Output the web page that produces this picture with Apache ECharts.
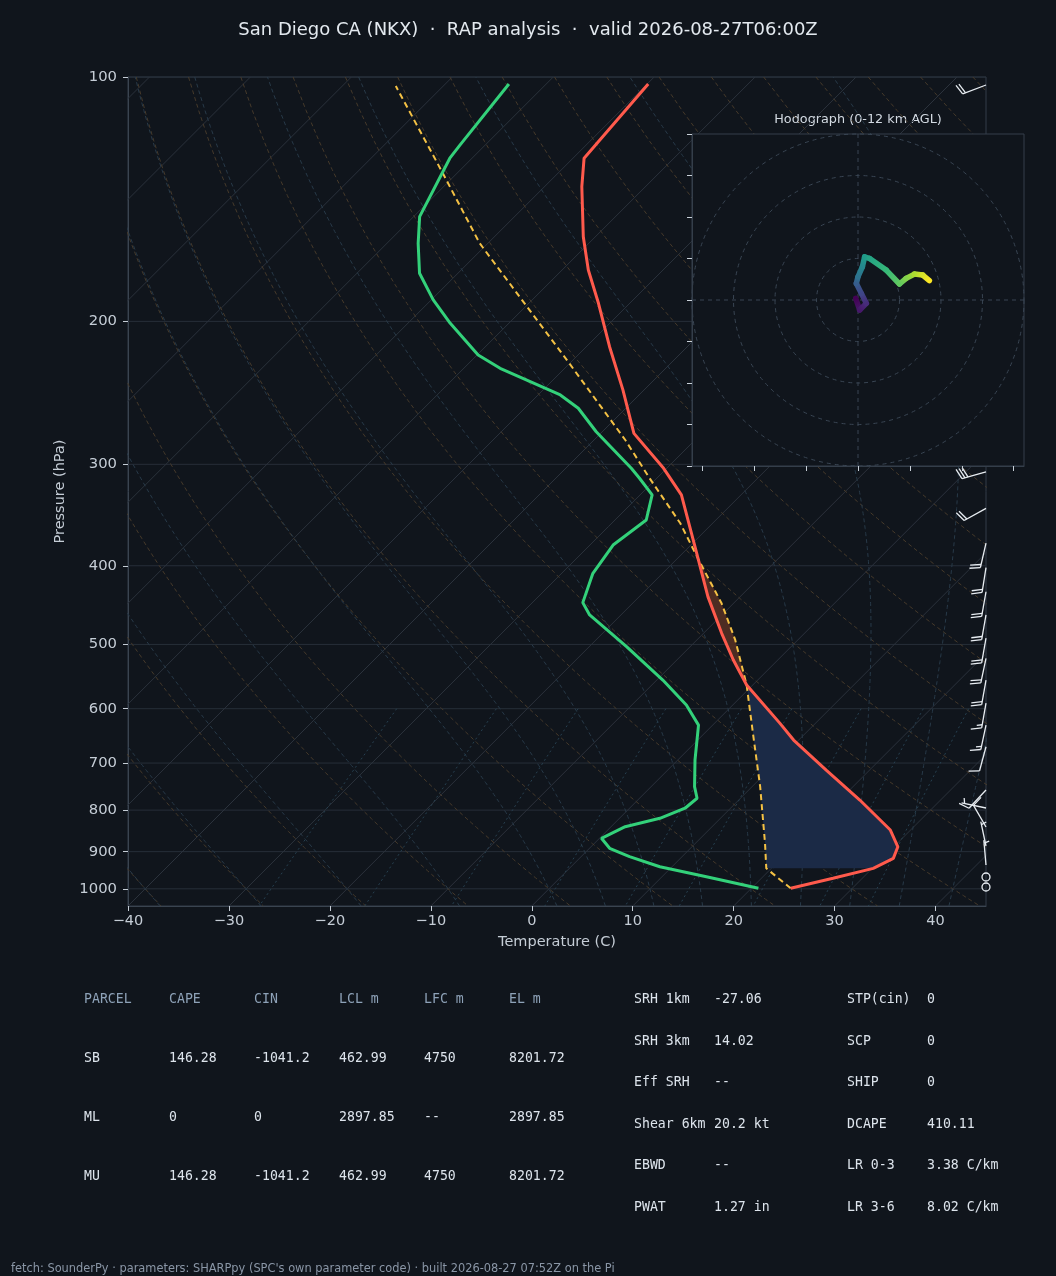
<!DOCTYPE html>
<html lang="en">
<head>
<meta charset="UTF-8">
<title>Skew-T - San Diego CA (NKX)</title>
<style>
  html, body { margin: 0; padding: 0; background: #10151c; }
  #main { width: 1056px; height: 1276px; }
</style>
</head>
<body>
<div id="main"></div>
<script src="https://cdn.jsdelivr.net/npm/echarts@6.0.0/dist/echarts.min.js"></script>
<script>
// ---- sounding ----
var tempP = [102.0, 125.9, 136.5, 157.3, 172.9, 190.0, 214.9, 242.9, 274.8, 303.4, 327.2, 386.1, 436.6, 484.5, 522.6, 561.1, 625.5, 655.8, 714.0, 777.4, 846.5, 887.6, 917.3, 943.6, 970.7, 998.6];
var tempC = [-69.9, -68.9, -66.3, -61.2, -57.4, -53.1, -47.7, -42.1, -36.7, -30.3, -25.9, -18.6, -13.2, -8.2, -4.4, -0.6, 6.5, 9.5, 15.7, 22.0, 28.0, 30.4, 31.1, 30.1, 27.1, 23.9];

var dewP = [102.0, 121.3, 125.9, 148.6, 160.3, 174.5, 188.2, 201.1, 220.0, 228.5, 246.4, 255.9, 273.5, 303.4, 312.1, 327.2, 351.3, 377.2, 408.7, 444.1, 459.9, 503.2, 553.2, 593.7, 628.6, 693.8, 748.4, 773.5, 795.7, 818.7, 838.5, 866.6, 891.5, 912.9, 939.3, 966.2, 998.6];
var dewC = [-83.7, -82.5, -82.2, -79.4, -76.9, -73.8, -69.8, -65.8, -59.9, -56.4, -47.8, -44.7, -40.6, -33.5, -31.7, -28.8, -26.9, -27.7, -26.9, -25.0, -23.1, -16.3, -9.4, -4.6, -1.4, 1.7, 4.3, 5.7, 5.5, 4.0, 1.4, 0.2, 2.0, 4.8, 8.8, 14.4, 20.7];

var parcelP = [998.6, 943.6, 879.0, 748.4, 643.3, 561.1, 493.7, 444.8, 391.6, 354.6, 312.1, 280.0, 223.2, 160.3, 131.4, 102.6];
var parcelC = [23.9, 19.5, 16.9, 10.8, 4.8, -0.6, -6.2, -11.2, -18.0, -23.2, -30.7, -36.9, -50.6, -70.8, -81.4, -94.7];

// shaded layers [top p, bottom p]
var capeLayer = [386, 561.1];
var cinLayer = [561.1, 943.6];

// wind barbs (kt, direction wind comes from)
var barbP = [102.3, 306.4, 339.9, 375.2, 402.2, 430.6, 459.9, 491.3, 520.3, 553.2, 590.7, 628.5, 668.3, 755.5, 795.2, 839.3, 885.7, 934.7, 967.1, 994.9];
var barbDir = [249, 254, 241, 193, 189, 190, 190, 190, 192, 190, 190, 192, 195, 223, 282, 330, 348, 355, 0, 0];
var barbSpd = [20, 30, 20, 20, 20, 20, 20, 20, 20, 20, 15, 15, 10, 10, 5, 10, 5, 5, 0, 0];

// hodograph (kt) and height (km AGL)
var hodoU = [-1.1, 0.8, 4.0, 1.6, -0.8, 0.0, 2.1, 3.2, 5.6, 13.6, 20.0, 23.2, 27.2, 31.2, 34.4];
var hodoV = [0.8, -4.8, -1.6, 3.2, 8.0, 11.2, 16.0, 20.8, 20.0, 14.4, 7.7, 10.4, 12.5, 12.0, 9.3];
var hodoH = [0, 0.8, 1.5, 2.5, 3.5, 4.5, 5.5, 6.5, 7.0, 8.0, 9.0, 9.7, 10.5, 11.3, 12.0];

// ticks
var tempTicks = [-40, -30, -20, -10, 0, 10, 20, 30, 40];
var presTicks = [100, 200, 300, 400, 500, 600, 700, 800, 900, 1000];
var hodoTicksU = [-75, -50, -25, 0, 25, 50, 75];
var hodoTicksV = [-80, -60, -40, -20, 0, 20, 40, 60, 80];
var hodoRings = [20, 40, 60, 80];

// parameter tables
var parcelHead = ['PARCEL', 'CAPE', 'CIN', 'LCL m', 'LFC m', 'EL m'];
var parcelRows = [
  ['SB', '146.28', '-1041.2', '462.99', '4750', '8201.72'],
  ['ML', '0', '0', '2897.85', '--', '2897.85'],
  ['MU', '146.28', '-1041.2', '462.99', '4750', '8201.72']
];
var indexRows = [
  ['SRH 1km', '-27.06', 'STP(cin)', '0'],
  ['SRH 3km', '14.02', 'SCP', '0'],
  ['Eff SRH', '--', 'SHIP', '0'],
  ['Shear 6km', '20.2 kt', 'DCAPE', '410.11'],
  ['EBWD', '--', 'LR 0-3', '3.38 C/km'],
  ['PWAT', '1.27 in', 'LR 3-6', '8.02 C/km']
];

// ---- layout / skew ----
var BG = '#10151c';
var T_MIN = -40, T_MAX = 45, P_TOP = 100, P_BOT = 1050;
var GRID = { left: 128, top: 77, width: 858, height: 829 };
var LOG_BOT = Math.log10(P_BOT);
// degrees C of shift per decade of pressure so isotherms run at 45 degrees
var SKEW = (GRID.height / (LOG_BOT - Math.log10(P_TOP))) / (GRID.width / (T_MAX - T_MIN));
function sk(t, p) { return [t + SKEW * (LOG_BOT - Math.log10(p)), Math.log10(p)]; }

var TXT = '#c5cdd6';
var FONT = 'DejaVu Sans';
var MONO = 'DejaVu Sans Mono';

// ---- background thermodynamic grid ----
function guide(points, color, dash) {
  return {
    type: 'line', xAxisIndex: 0, yAxisIndex: 0, data: points,
    showSymbol: false, symbol: 'none', silent: true, z: 1,
    lineStyle: { color: color, width: 1, type: dash || 'solid' }
  };
}
var guides = [];
presTicks.forEach(function (p) {
  guides.push(guide([[T_MIN, Math.log10(p)], [T_MAX, Math.log10(p)]], '#262e38'));
});
for (var t = -130; t <= 40; t += 10) {
  guides.push(guide([sk(t, P_BOT), sk(t, P_TOP)], '#2b323c'));
}
var levels = [];
for (var p = P_TOP; p <= P_BOT; p += 10) levels.push(p);
for (var t0 = -40; t0 <= 200; t0 += 10) {
  guides.push(guide(levels.map(function (p) {
    return sk((t0 + 273.15) * Math.pow(p / 1000, 0.2857) - 273.15, p);
  }), '#463a2b', [4, 3]));
}
function satVap(tc) { return 6.112 * Math.exp(17.67 * tc / (tc + 243.5)); }
function moistLapse(tK, p) {
  var Rd = 287.04, Cp = 1005.7, Lv = 2.501e6, eps = 0.622;
  var es = satVap(tK - 273.15), rs = eps * es / (p - es);
  return (Rd * tK + Lv * rs) / (Cp + Lv * Lv * rs * eps / (Rd * tK * tK)) / p;
}
function moistLine(t0) {
  var up = [], down = [], T = t0 + 273.15, p = 1000, dp, k1, k2;
  up.push([p, T]);
  while (p > P_TOP) {
    dp = -5; k1 = moistLapse(T, p); k2 = moistLapse(T + k1 * dp, p + dp);
    T += (k1 + k2) / 2 * dp; p += dp; up.push([p, T]);
  }
  T = t0 + 273.15; p = 1000;
  while (p < P_BOT) {
    dp = 5; k1 = moistLapse(T, p); k2 = moistLapse(T + k1 * dp, p + dp);
    T += (k1 + k2) / 2 * dp; p += dp; down.push([p, T]);
  }
  return down.reverse().concat(up).map(function (q) { return sk(q[1] - 273.15, q[0]); });
}
[-40, -30, -20, -10, 0, 5, 10, 15, 20, 25, 30, 35, 40, 45].forEach(function (t0) {
  guides.push(guide(moistLine(t0), '#283a49', [4, 3]));
});
[0.0004, 0.001, 0.002, 0.004, 0.007, 0.01, 0.016, 0.024, 0.032].forEach(function (w) {
  var pts = [];
  for (var p = 600; p <= P_BOT; p += 50) {
    var l = Math.log(w * p / (0.622 + w) / 6.112);
    pts.push(sk(243.5 * l / (17.67 - l), p));
  }
  guides.push(guide(pts, '#274050', [2, 3]));
});

// ---- shaded layers ----
function layerPolygon(layer) {
  var pts = [];
  parcelP.forEach(function (p, i) { if (p >= layer[0] - 0.01 && p <= layer[1] + 0.01) pts.push(sk(parcelC[i], p)); });
  tempP.forEach(function (p, i) { if (p >= layer[0] - 0.01 && p <= layer[1] + 0.01) pts.push(sk(tempC[i], p)); });
  return pts;
}
var layers = [
  { pts: layerPolygon(cinLayer), fill: '#1b2a46' },
  { pts: layerPolygon(capeLayer), fill: '#4d2c22' }
];

// ---- wind barbs ----
function renderBarb(params, api) {
  var base = api.coord([api.value(0), api.value(1)]);
  var spd = api.value(2), dir = api.value(3) * Math.PI / 180;
  var L = 25, style = { stroke: '#e8edf2', lineWidth: 1.3, fill: 'none' };
  if (spd < 2.5) {
    return { type: 'circle', shape: { cx: base[0], cy: base[1], r: 0.16 * L }, style: style };
  }
  var dx = Math.sin(dir), dy = -Math.cos(dir);
  var fx = -dy, fy = dx;
  var kids = [{ type: 'line', shape: { x1: base[0], y1: base[1], x2: base[0] + dx * L, y2: base[1] + dy * L }, style: style }];
  var rest = Math.round(spd / 5) * 5, pos = L, sp = 0.125 * L;
  var nFull = Math.floor(rest / 10), half = rest - nFull * 10 >= 5;
  if (nFull === 0 && half) pos -= sp;
  for (var i = 0; i < nFull; i++) {
    var sx = base[0] + dx * pos, sy = base[1] + dy * pos;
    kids.push({ type: 'line', shape: { x1: sx, y1: sy, x2: sx + fx * 0.42 * L + dx * sp, y2: sy + fy * 0.42 * L + dy * sp }, style: style });
    pos -= sp;
  }
  if (half) {
    var hx = base[0] + dx * pos, hy = base[1] + dy * pos;
    kids.push({ type: 'line', shape: { x1: hx, y1: hy, x2: hx + fx * 0.21 * L + dx * sp / 2, y2: hy + fy * 0.21 * L + dy * sp / 2 }, style: style });
  }
  return { type: 'group', children: kids };
}

// ---- hodograph ----
var VIRIDIS = ['#440154', '#482878', '#3e4989', '#31688e', '#26828e', '#1f9e89', '#35b779', '#6ece58', '#b5de2b', '#fde725'];
function viridis(h) { return echarts.color.lerp(Math.max(0, Math.min(1, h / 12)), VIRIDIS); }
var hodoSegs = [];
for (var i = 1; i < hodoU.length; i++) {
  hodoSegs.push([hodoU[i - 1], hodoV[i - 1], hodoU[i], hodoV[i], hodoH[i - 1], hodoH[i]]);
}

// ---- text blocks ----
var graphics = [
  { type: 'text', x: 858, y: 120, style: { text: 'Hodograph (0-12 km AGL)', fill: '#d3dae2', font: '12.8px "' + FONT + '"', align: 'center', verticalAlign: 'middle' } },
  { type: 'text', x: 11, y: 1269, style: { text: "fetch: SounderPy \u00b7 parameters: SHARPpy (SPC's own parameter code) \u00b7 built 2026-08-27 07:52Z on the Pi", fill: '#8a96a6', font: '11.4px "' + FONT + '"', verticalAlign: 'middle' } }
];
var pcolX = [84, 169, 254, 339, 424, 509], prowY = [1000, 1059, 1118, 1177];
parcelHead.forEach(function (s, c) {
  graphics.push({ type: 'text', x: pcolX[c], y: prowY[0], style: { text: s, fill: '#8ea2b8', font: '13.2px "' + MONO + '"', verticalAlign: 'middle' } });
});
parcelRows.forEach(function (row, r) {
  row.forEach(function (s, c) {
    graphics.push({ type: 'text', x: pcolX[c], y: prowY[r + 1], style: { text: s, fill: '#dde4ec', font: '13.2px "' + MONO + '"', verticalAlign: 'middle' } });
  });
});
var icolX = [634, 714, 847, 927], irowY = [1000, 1041.5, 1083, 1124.5, 1166, 1207.5];
indexRows.forEach(function (row, r) {
  row.forEach(function (s, c) {
    graphics.push({ type: 'text', x: icolX[c], y: irowY[r], style: { text: s, fill: '#dde4ec', font: '13.2px "' + MONO + '"', verticalAlign: 'middle' } });
  });
});

function minus(v) { return v < 0 ? '\u2212' + (-v) : String(v); }

var series = guides.concat([
  {
    type: 'custom', xAxisIndex: 0, yAxisIndex: 0, z: 2, silent: true,
    data: layers.map(function (l, i) { return [i]; }),
    renderItem: function (params, api) {
      var l = layers[params.dataIndex];
      return { type: 'polygon', shape: { points: l.pts.map(function (q) { return api.coord(q); }) }, style: { fill: l.fill } };
    }
  },
  {
    type: 'line', name: 'Parcel', xAxisIndex: 0, yAxisIndex: 0, z: 3, showSymbol: false, symbol: 'none',
    data: parcelP.map(function (p, i) { return sk(parcelC[i], p); }),
    lineStyle: { color: '#f4c144', width: 2, type: [6, 4] }
  },
  {
    type: 'line', name: 'Dewpoint', xAxisIndex: 0, yAxisIndex: 0, z: 4, showSymbol: false, symbol: 'none',
    data: dewP.map(function (p, i) { return sk(dewC[i], p); }),
    lineStyle: { color: '#33d17a', width: 3 }
  },
  {
    type: 'line', name: 'Temperature', xAxisIndex: 0, yAxisIndex: 0, z: 4, showSymbol: false, symbol: 'none',
    data: tempP.map(function (p, i) { return sk(tempC[i], p); }),
    lineStyle: { color: '#ff5a4c', width: 3 }
  },
  {
    type: 'custom', name: 'Wind', xAxisIndex: 0, yAxisIndex: 0, z: 5, silent: true,
    data: barbP.map(function (p, i) { return [T_MAX, Math.log10(p), barbSpd[i], barbDir[i]]; }),
    renderItem: renderBarb
  },
  {
    type: 'custom', xAxisIndex: 1, yAxisIndex: 1, z: 10, silent: true, data: [[0, 0]],
    renderItem: function (params, api) {
      var cs = params.coordSys;
      var c = api.coord([0, 0]);
      var kids = [{ type: 'rect', shape: { x: cs.x, y: cs.y, width: cs.width, height: cs.height }, style: { fill: BG, stroke: '#343e4a', lineWidth: 1 } }];
      var dash = { stroke: '#394553', lineWidth: 1, lineDash: [4, 4], fill: 'none' };
      hodoRings.forEach(function (r) {
        kids.push({ type: 'circle', shape: { cx: c[0], cy: c[1], r: api.size([r, 0])[0] }, style: dash });
      });
      kids.push({ type: 'line', shape: { x1: cs.x, y1: c[1], x2: cs.x + cs.width, y2: c[1] }, style: dash });
      kids.push({ type: 'line', shape: { x1: c[0], y1: cs.y, x2: c[0], y2: cs.y + cs.height }, style: dash });
      return { type: 'group', children: kids };
    }
  },
  {
    type: 'custom', name: 'Hodograph', xAxisIndex: 1, yAxisIndex: 1, z: 12, silent: true,
    encode: { x: [0, 2], y: [1, 3] },
    data: hodoSegs,
    renderItem: function (params, api) {
      var a = api.coord([api.value(0), api.value(1)]), b = api.coord([api.value(2), api.value(3)]);
      return {
        type: 'line', shape: { x1: a[0], y1: a[1], x2: b[0], y2: b[1] },
        style: {
          lineWidth: 5.5, lineCap: 'round',
          stroke: { type: 'linear', x: a[0], y: a[1], x2: b[0], y2: b[1], global: true,
            colorStops: [{ offset: 0, color: viridis(api.value(4)) }, { offset: 1, color: viridis(api.value(5)) }] }
        }
      };
    }
  }
]);

var chart = echarts.init(document.getElementById('main'), null, { renderer: 'canvas' });
chart.setOption({
  backgroundColor: BG,
  animation: false,
  textStyle: { fontFamily: FONT },
  title: {
    text: 'San Diego CA (NKX)  \u00b7  RAP analysis  \u00b7  valid 2026-08-27T06:00Z',
    left: 'center', top: 16,
    textStyle: { color: '#e3e9ef', fontSize: 18, fontWeight: 'normal', fontFamily: FONT }
  },
  grid: [
    { left: GRID.left, top: GRID.top, width: GRID.width, height: GRID.height, show: true, borderColor: '#333d49', borderWidth: 1, backgroundColor: 'transparent' },
    { left: 692, top: 134, width: 332, height: 332 }
  ],
  xAxis: [
    {
      gridIndex: 0, type: 'value', min: T_MIN, max: T_MAX,
      name: 'Temperature (C)', nameLocation: 'middle', nameGap: 29,
      nameTextStyle: { color: TXT, fontSize: 14.5 },
      axisLine: { show: true, onZero: false, lineStyle: { color: '#3a4450' } },
      axisTick: { show: true, length: 5, customValues: tempTicks, lineStyle: { color: TXT } },
      axisLabel: { customValues: tempTicks, formatter: minus, color: TXT, fontSize: 14.5, margin: 8 },
      splitLine: { show: false }
    },
    {
      gridIndex: 1, type: 'value', min: -80, max: 80, z: 13,
      axisLine: { show: true, onZero: false, lineStyle: { color: '#343e4a' } },
      axisTick: { show: true, length: 5, customValues: hodoTicksU, lineStyle: { color: '#c9d1d9' } },
      axisLabel: { show: false },
      splitLine: { show: false }
    }
  ],
  yAxis: [
    {
      gridIndex: 0, type: 'value', inverse: true, min: Math.log10(P_TOP), max: LOG_BOT,
      name: 'Pressure (hPa)', nameLocation: 'middle', nameGap: 60, nameRotate: 90,
      nameTextStyle: { color: TXT, fontSize: 14.5 },
      axisLine: { show: true, onZero: false, lineStyle: { color: '#3a4450' } },
      axisTick: { show: true, length: 5, customValues: presTicks.map(Math.log10), lineStyle: { color: TXT } },
      axisLabel: {
        customValues: presTicks.map(Math.log10), color: TXT, fontSize: 14.8, margin: 11,
        formatter: function (v) { return String(Math.round(Math.pow(10, v))); }
      },
      splitLine: { show: false }
    },
    {
      gridIndex: 1, type: 'value', min: -80, max: 80, z: 13,
      axisLine: { show: true, onZero: false, lineStyle: { color: '#343e4a' } },
      axisTick: { show: true, length: 5, customValues: hodoTicksV, lineStyle: { color: '#c9d1d9' } },
      axisLabel: { show: false },
      splitLine: { show: false }
    }
  ],
  graphic: graphics,
  series: series
});
</script>
</body>
</html>
